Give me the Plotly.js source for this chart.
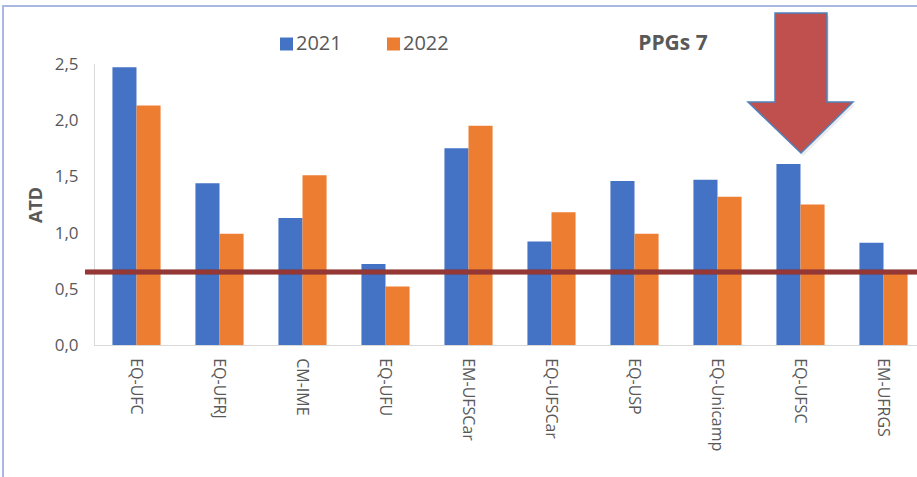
<!DOCTYPE html>
<html>
<head>
<meta charset="utf-8">
<script src="https://cdn.plot.ly/plotly-3.0.1.min.js"></script>
<style>html,body{margin:0;padding:0;background:#fff;}#chart{width:917px;height:477px;}</style>
</head>
<body>
<div id="chart"></div>
<script>
// ---- data ----
var categories = ['EQ-UFC','EQ-UFRJ','CM-IME','EQ-UFU','EM-UFSCar','EQ-UFSCar','EQ-USP','EQ-Unicamp','EQ-UFSC','EM-UFRGS'];
var seriesNames = ['2021','2022'];
var values2021 = [2.47, 1.44, 1.13, 0.72, 1.75, 0.92, 1.46, 1.47, 1.61, 0.91];
var values2022 = [2.13, 0.99, 1.51, 0.52, 1.95, 1.18, 0.99, 1.32, 1.25, 0.65];
var threshold = 0.65;
var yTickVals = [0, 0.5, 1, 1.5, 2, 2.5];
var yTickText = ['0,0','0,5','1,0','1,5','2,0','2,5'];
var chartTitle = 'PPGs 7';
var yTitle = 'ATD';

// ---- layout helpers (pixel -> paper) ----
var W = 917, H = 477;
var M = {l: 95, r: 0, t: 64, b: 132};
var PW = W - M.l - M.r, PH = H - M.t - M.b;
function px(x) { return (x - M.l) / PW; }
function py(y) { return (H - M.b - y) / PH; }

var blue = '#4472C4', orange = '#ED7D31', gray = '#595959';

var traces = [
  {type: 'bar', name: seriesNames[0], x: categories, y: values2021, marker: {color: blue}, showlegend: false},
  {type: 'bar', name: seriesNames[1], x: categories, y: values2022, marker: {color: orange}, showlegend: false}
];

var arrowPts = [[775,13],[827,13],[827,102],[853,102],[801,153],[748,102],[775,102]];
var arrowPath = arrowPts.map(function(p, i){ return (i ? 'L' : 'M') + px(p[0]).toFixed(5) + ',' + py(p[1]).toFixed(5); }).join(' ') + ' Z';
var shadowPath = arrowPts.map(function(p, i){ return (i ? 'L' : 'M') + px(p[0]+2).toFixed(5) + ',' + py(p[1]+3).toFixed(5); }).join(' ') + ' Z';

var shapes = [
  // frame
  {type: 'rect', xref: 'paper', yref: 'paper', x0: px(3), x1: px(1100), y0: py(6), y1: py(700),
   line: {color: 'rgb(168,184,224)', width: 2}, fillcolor: 'rgba(0,0,0,0)'},
  // threshold shadow
  {type: 'line', xref: 'paper', yref: 'y', x0: px(87), x1: px(1100), y0: threshold, y1: threshold,
   line: {color: 'rgba(0,0,0,0.10)', width: 6}},
  // threshold line
  {type: 'line', xref: 'paper', yref: 'y', x0: px(85), x1: px(1100), y0: threshold, y1: threshold,
   line: {color: '#953735', width: 5}},
  // arrow shadow
  {type: 'path', xref: 'paper', yref: 'paper', path: shadowPath, fillcolor: 'rgba(0,0,0,0.08)', line: {width: 0}},
  // arrow
  {type: 'path', xref: 'paper', yref: 'paper', path: arrowPath, fillcolor: '#C0504D', line: {color: '#4F81BD', width: 1.5}},
  // legend squares
  {type: 'rect', xref: 'paper', yref: 'paper', x0: px(280), x1: px(293), y0: py(37.5), y1: py(50.5), fillcolor: blue, line: {width: 0}},
  {type: 'rect', xref: 'paper', yref: 'paper', x0: px(387), x1: px(400), y0: py(37.5), y1: py(50.5), fillcolor: orange, line: {width: 0}}
];

var annotations = [
  {xref: 'paper', yref: 'paper', x: px(294), y: py(42), xanchor: 'left', yanchor: 'middle', showarrow: false,
   text: seriesNames[0], font: {family: 'Open Sans', size: 20, color: gray}},
  {xref: 'paper', yref: 'paper', x: px(401), y: py(42), xanchor: 'left', yanchor: 'middle', showarrow: false,
   text: seriesNames[1], font: {family: 'Open Sans', size: 20, color: gray}},
  {xref: 'paper', yref: 'paper', x: px(35), y: py(205), xanchor: 'center', yanchor: 'middle', showarrow: false,
   textangle: -90, text: '<b>' + yTitle + '</b>', font: {family: 'Open Sans', size: 18, color: gray}}
];

var layout = {
  width: W, height: H,
  margin: {l: M.l, r: M.r, t: M.t, b: M.b, pad: 0},
  paper_bgcolor: '#fff', plot_bgcolor: '#fff',
  showlegend: false,
  hovermode: false,
  barmode: 'group', bargap: 0.42, bargroupgap: 0,
  font: {family: 'Open Sans', color: gray},
  title: {text: '<b>' + chartTitle + '</b>', xref: 'paper', x: px(673), xanchor: 'center',
          yref: 'container', y: 1 - 43 / H, yanchor: 'middle', font: {family: 'Open Sans', size: 21, color: gray}},
  xaxis: {type: 'category', range: [-0.5, -0.5 + PW / 83], showgrid: false, zeroline: false,
          showline: true, linecolor: '#D9D9D9', linewidth: 1,
          ticks: 'outside', ticklen: 9, tickcolor: 'rgba(0,0,0,0)', tickangle: 90,
          tickfont: {family: 'Open Sans', size: 16, color: gray}, automargin: false, fixedrange: true},
  yaxis: {range: [0, 2.5], tickvals: yTickVals, ticktext: yTickText, showgrid: false, zeroline: false,
          showline: true, linecolor: '#D9D9D9', linewidth: 1,
          ticks: 'outside', ticklen: 12, tickcolor: 'rgba(0,0,0,0)',
          tickfont: {family: 'Open Sans', size: 17, color: gray}, automargin: false, fixedrange: true},
  shapes: shapes,
  annotations: annotations
};

Plotly.newPlot('chart', traces, layout, {displayModeBar: false, staticPlot: true});
</script>
</body>
</html>
